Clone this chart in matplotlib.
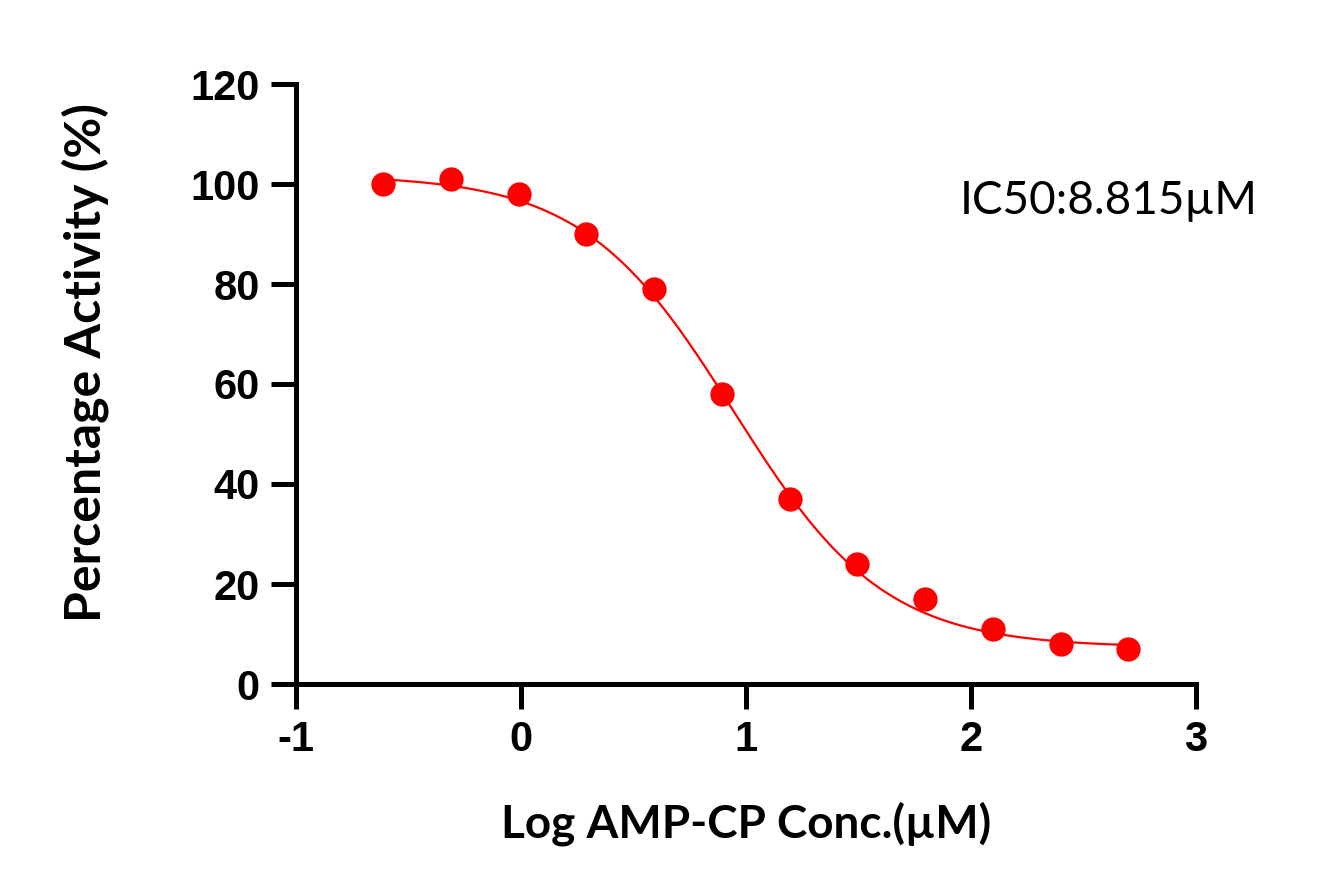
import numpy as np
import matplotlib
matplotlib.use("Agg")
import matplotlib.pyplot as plt

# Data
log_conc = [-0.612, -0.311, -0.010, 0.291, 0.592, 0.893, 1.194, 1.495, 1.796, 2.097, 2.398, 2.699]
activity = [100, 101, 98, 90, 79, 58, 37, 24, 17, 11, 8, 7]

# Fitted 4PL parameters
fit_top = 101.8
fit_bottom = 7.3
fit_log_ic50 = np.log10(8.815)
fit_hill = 1.3

xticks = [-1, 0, 1, 2, 3]
yticks = [0, 20, 40, 60, 80, 100, 120]

fig = plt.figure(figsize=(13.34, 8.91), dpi=100)
ax = fig.add_axes([296/1334, 1 - 684/891, 900/1334, 600/891])

xs = np.linspace(min(log_conc), max(log_conc), 400)
ys = fit_bottom + (fit_top - fit_bottom) / (1 + 10 ** ((xs - fit_log_ic50) * fit_hill))
ax.plot(xs, ys, color="#FF0000", lw=1.6, zorder=2)
ax.plot(log_conc, activity, "o", color="#FF0000", markersize=17.5, markeredgewidth=0, zorder=3)

ax.set_xlim(-1, 3)
ax.set_ylim(0, 120)
ax.set_xticks(xticks)
ax.set_yticks(yticks)
ax.set_xticklabels([str(t) for t in xticks])
ax.set_yticklabels([str(t) for t in yticks])

for s in ["top", "right"]:
    ax.spines[s].set_visible(False)
for s in ["left", "bottom"]:
    ax.spines[s].set_linewidth(3.6)
    ax.spines[s].set_capstyle("projecting")
ax.tick_params(axis="both", width=3.6, length=18, direction="out", pad=8)
for lab in ax.get_xticklabels() + ax.get_yticklabels():
    lab.set_fontfamily("Liberation Sans")
    lab.set_fontweight("bold")
    lab.set_fontsize(30)

ax.set_xlabel("Log AMP-CP Conc.(µM)", fontfamily="Lato", fontweight="bold", fontsize=33, labelpad=30)
ax.set_ylabel("Percentage Activity (%)", fontfamily="Lato", fontweight="bold", fontsize=36, labelpad=59)
ax.yaxis.label.set_y(0.535)

ax.text(1.951, 94, "IC50:8.815µM", fontfamily="Lato", fontsize=33, ha="left", va="baseline")

fig.savefig("out.png", dpi=100)
